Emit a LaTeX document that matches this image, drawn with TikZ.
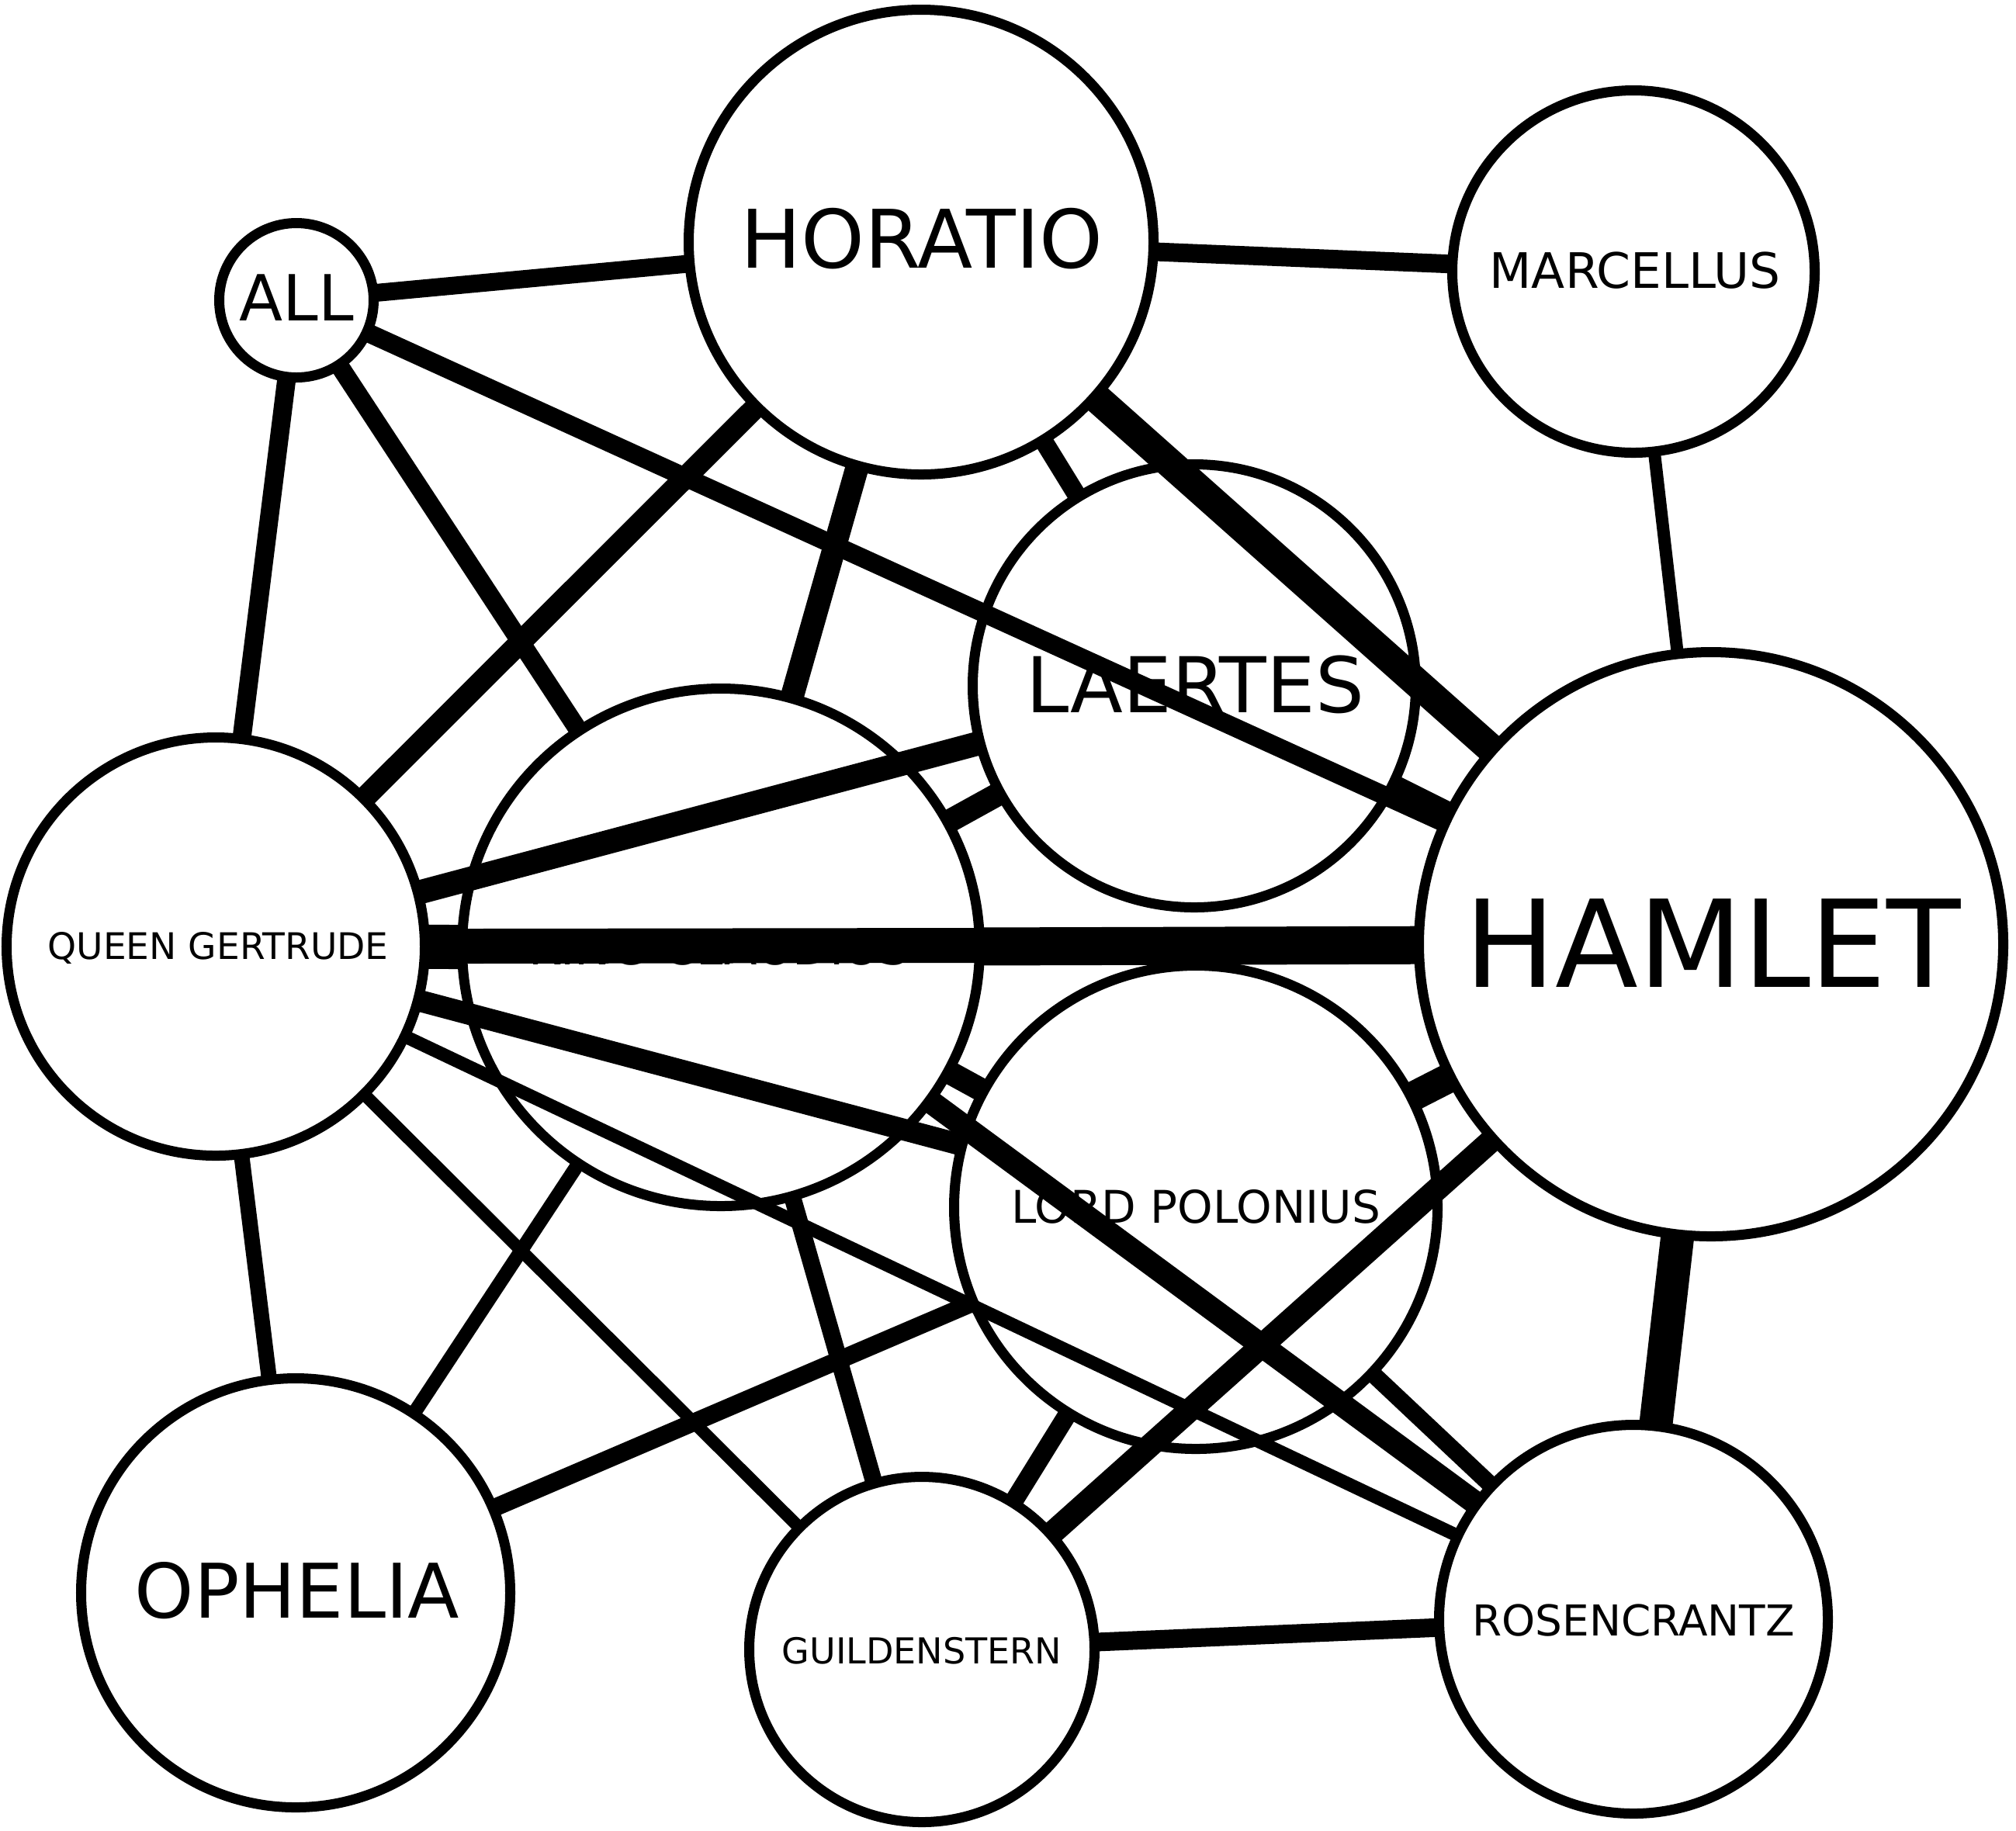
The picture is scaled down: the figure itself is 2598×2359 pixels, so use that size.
\documentclass[tikz,border=0pt]{standalone}
\usepackage{fontspec}
\setmainfont{DejaVu Sans}
\tikzset{
  person/.style={circle, draw=black, line width=0.13cm, inner sep=0pt, outer sep=0pt, minimum size=#1*0.01cm},
  lbl/.style={anchor=base, inner sep=0pt, outer sep=0pt, font=\fontsize{#1}{#1}\selectfont},
  edge/.style={draw=black, line width=#1*0.01cm, line cap=butt}
}
\begin{document}
\begin{tikzpicture}[x=0.01cm,y=-0.01cm]
\useasboundingbox (0,0) rectangle (2598,2359);
% nodes (circles)
\node[person=199] (all) at (382,387) {};
\node[person=599] (hor) at (1187,312) {};
\node[person=467] (mar) at (2105,350) {};
\node[person=571] (lae) at (1539,884) {};
\node[person=753] (ham) at (2205,1217) {};
\node[person=539] (ger) at (278,1220) {};
\node[person=667] (kin) at (929,1221) {};
\node[person=623] (pol) at (1541,1556) {};
\node[person=553] (oph) at (381,2053) {};
\node[person=445] (gui) at (1188,2126) {};
\node[person=501] (ros) at (2105,2087) {};
% labels
\node[lbl=23.3pt] (tall) at (382,413) {ALL};
\node[lbl=29.6pt] (thor) at (1188,345) {HORATIO};
\node[lbl=17.9pt] (tmar) at (2107,371) {MARCELLUS};
\node[lbl=28.2pt] (tlae) at (1540,918) {LAERTES};
\node[lbl=44.4pt] (tham) at (2207,1272) {HAMLET};
\node[lbl=13.4pt] (tger) at (281,1236) {QUEEN GERTRUDE};
\node[lbl=17.6pt] (tkin) at (927,1243) {KING CLAUDIUS};
\node[lbl=16.5pt] (tpol) at (1541,1576) {LORD POLONIUS};
\node[lbl=27.6pt] (toph) at (383,2085) {OPHELIA};
\node[lbl=13.1pt] (tgui) at (1188,2144) {GUILDENSTERN};
\node[lbl=15.6pt] (tros) at (2105,2108) {ROSENCRANTZ};
% edges
\draw[edge=23] (all) -- (hor);
\draw[edge=24] (all) -- (ham);
\draw[edge=24] (all) -- (kin);
\draw[edge=24] (all) -- (ger);
\draw[edge=24] (hor) -- (mar);
\draw[edge=38] (hor) -- (ham);
\draw[edge=24] (hor) -- (lae);
\draw[edge=30] (hor) -- (kin);
\draw[edge=28] (hor) -- (ger);
\draw[edge=16] (mar) -- (ham);
\draw[edge=30] (lae) -- (kin);
\draw[edge=31] (lae) -- (ger);
\draw[edge=28] (lae) -- (ham);
\draw[edge=45] (ger) -- (ham);
\draw[edge=57] (ger) -- (kin);
\draw[edge=28] (ger) -- (pol);
\draw[edge=17] (ger) -- (ros);
\draw[edge=16] (ger) -- (gui);
\draw[edge=20] (ger) -- (oph);
\draw[edge=49] (kin) -- (ham);
\draw[edge=30] (kin) -- (pol);
\draw[edge=30] (kin) -- (ros);
\draw[edge=22] (kin) -- (gui);
\draw[edge=18] (kin) -- (oph);
\draw[edge=38] (ham) -- (pol);
\draw[edge=30] (ham) -- (gui);
\draw[edge=43] (ham) -- (ros);
\draw[edge=23] (pol) -- (oph);
\draw[edge=24] (pol) -- (gui);
\draw[edge=22] (pol) -- (ros);
\draw[edge=24] (ros) -- (gui);
\end{tikzpicture}
\end{document}
